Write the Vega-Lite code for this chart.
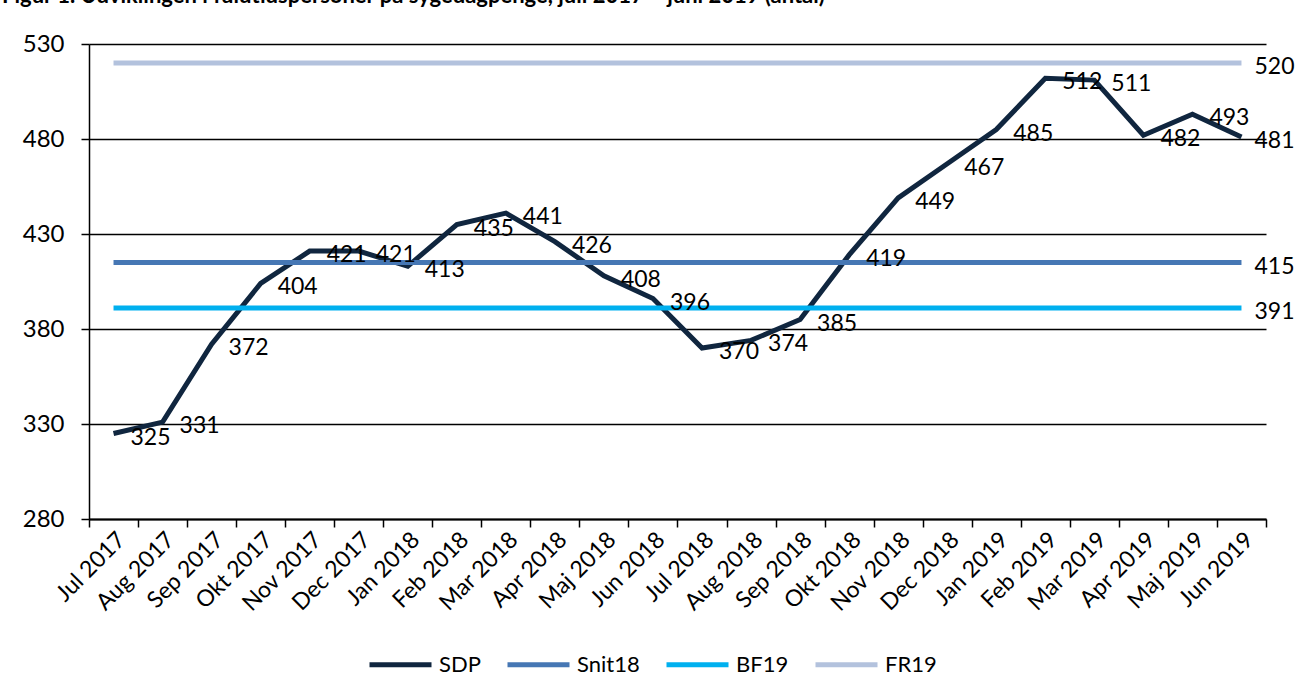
{
  "$schema": "https://vega.github.io/schema/vega-lite/v6.json",
  "autosize": {"type": "none"},
  "width": 1177,
  "height": 475,
  "padding": {"left": 89, "top": 44, "right": 31, "bottom": 163},
  "background": "white",
  "title": {
    "text": "Figur 1. Udviklingen i fuldtidspersoner på sygedagpenge, juli 2017 – juni 2019 (antal)",
    "anchor": "start",
    "frame": "group",
    "dx": -87,
    "offset": 7,
    "baseline": "alphabetic",
    "font": "Lato",
    "fontSize": 22,
    "fontWeight": "bold",
    "color": "black"
  },
  "config": {
    "font": "Lato",
    "view": {"stroke": null}
  },
  "data": {
    "values": [
      {"m": "Jul 2017", "SDP": 325, "Snit18": 415, "BF19": 391, "FR19": 520},
      {"m": "Aug 2017", "SDP": 331, "Snit18": 415, "BF19": 391, "FR19": 520},
      {"m": "Sep 2017", "SDP": 372, "Snit18": 415, "BF19": 391, "FR19": 520},
      {"m": "Okt 2017", "SDP": 404, "Snit18": 415, "BF19": 391, "FR19": 520},
      {"m": "Nov 2017", "SDP": 421, "Snit18": 415, "BF19": 391, "FR19": 520},
      {"m": "Dec 2017", "SDP": 421, "Snit18": 415, "BF19": 391, "FR19": 520},
      {"m": "Jan 2018", "SDP": 413, "Snit18": 415, "BF19": 391, "FR19": 520},
      {"m": "Feb 2018", "SDP": 435, "Snit18": 415, "BF19": 391, "FR19": 520},
      {"m": "Mar 2018", "SDP": 441, "Snit18": 415, "BF19": 391, "FR19": 520},
      {"m": "Apr 2018", "SDP": 426, "Snit18": 415, "BF19": 391, "FR19": 520},
      {"m": "Maj 2018", "SDP": 408, "Snit18": 415, "BF19": 391, "FR19": 520},
      {"m": "Jun 2018", "SDP": 396, "Snit18": 415, "BF19": 391, "FR19": 520},
      {"m": "Jul 2018", "SDP": 370, "Snit18": 415, "BF19": 391, "FR19": 520},
      {"m": "Aug 2018", "SDP": 374, "Snit18": 415, "BF19": 391, "FR19": 520},
      {"m": "Sep 2018", "SDP": 385, "Snit18": 415, "BF19": 391, "FR19": 520},
      {"m": "Okt 2018", "SDP": 419, "Snit18": 415, "BF19": 391, "FR19": 520},
      {"m": "Nov 2018", "SDP": 449, "Snit18": 415, "BF19": 391, "FR19": 520},
      {"m": "Dec 2018", "SDP": 467, "Snit18": 415, "BF19": 391, "FR19": 520},
      {"m": "Jan 2019", "SDP": 485, "Snit18": 415, "BF19": 391, "FR19": 520},
      {"m": "Feb 2019", "SDP": 512, "Snit18": 415, "BF19": 391, "FR19": 520},
      {"m": "Mar 2019", "SDP": 511, "Snit18": 415, "BF19": 391, "FR19": 520},
      {"m": "Apr 2019", "SDP": 482, "Snit18": 415, "BF19": 391, "FR19": 520},
      {"m": "Maj 2019", "SDP": 493, "Snit18": 415, "BF19": 391, "FR19": 520},
      {"m": "Jun 2019", "SDP": 481, "Snit18": 415, "BF19": 391, "FR19": 520}
    ]
  },
  "transform": [{"fold": ["SDP", "Snit18", "BF19", "FR19"], "as": ["serie", "antal"]}],
  "encoding": {
    "x": {
      "field": "m",
      "type": "ordinal",
      "sort": null,
      "bandPosition": 0.5,
      "scale": {"type": "band", "paddingInner": 0, "paddingOuter": 0},
      "axis": {
        "title": null,
        "labelAngle": -45,
        "labelAlign": "right",
        "labelBaseline": "top",
        "labelFont": "Lato",
        "labelFontSize": 23,
        "labelColor": "black",
        "labelPadding": 1,
        "labelOverlap": false,
        "labelBound": false,
        "ticks": true,
        "tickBand": "extent",
        "tickSize": 8,
        "tickColor": "black",
        "tickWidth": 1.5,
        "domainColor": "black",
        "domainWidth": 2,
        "grid": false
      }
    },
    "y": {
      "field": "antal",
      "type": "quantitative",
      "scale": {"domain": [280, 530], "nice": false, "zero": false},
      "axis": {
        "title": null,
        "values": [280, 330, 380, 430, 480, 530],
        "labelFont": "Lato",
        "labelFontSize": 24,
        "labelColor": "black",
        "labelPadding": 17,
        "tickSize": 8,
        "tickColor": "black",
        "tickWidth": 1.5,
        "domainColor": "black",
        "domainWidth": 1.5,
        "grid": true,
        "gridColor": "black",
        "gridWidth": 1.3
      }
    }
  },
  "layer": [
    {
      "mark": {"type": "line", "strokeWidth": 5},
      "encoding": {
        "color": {
          "field": "serie",
          "type": "nominal",
          "scale": {
            "domain": ["SDP", "Snit18", "BF19", "FR19"],
            "range": ["#10263F", "#4677B4", "#00B0EF", "#B3C2DD"]
          },
          "legend": {
            "title": null,
            "orient": "none",
            "legendX": 278,
            "legendY": 587,
            "direction": "horizontal",
            "symbolType": "stroke",
            "symbolSize": 3844,
            "symbolStrokeWidth": 5,
            "symbolOpacity": 1,
            "labelFont": "Lato",
            "labelFontSize": 22,
            "labelColor": "black",
            "labelOffset": 5,
            "columnPadding": 16
          }
        }
      }
    },
    {
      "transform": [{"filter": "datum.serie === 'SDP' && datum.m !== 'Jun 2019'"}],
      "mark": {
        "type": "text",
        "align": "left",
        "baseline": "middle",
        "dx": 17,
        "dy": 4,
        "font": "Lato",
        "fontSize": 23,
        "color": "black"
      },
      "encoding": {
        "text": {"field": "antal", "type": "quantitative"}
      }
    },
    {
      "transform": [{"filter": "datum.m === 'Jun 2019'"}],
      "mark": {
        "type": "text",
        "align": "left",
        "baseline": "middle",
        "dx": 13,
        "dy": 4,
        "font": "Lato",
        "fontSize": 23,
        "color": "black"
      },
      "encoding": {
        "text": {"field": "antal", "type": "quantitative"}
      }
    }
  ]
}
